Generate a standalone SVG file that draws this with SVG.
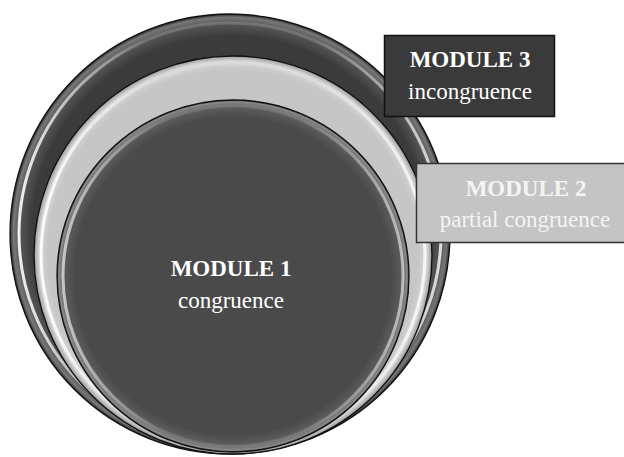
<svg xmlns="http://www.w3.org/2000/svg" width="624" height="457" viewBox="0 0 624 457">
  <defs>
    <radialGradient id="gOuter" cx="0.5" cy="0.5" r="0.5">
      <stop offset="0" stop-color="#3b3b3b"/>
      <stop offset="0.9" stop-color="#3b3b3b"/>
      <stop offset="0.955" stop-color="#555"/>
      <stop offset="0.985" stop-color="#777"/>
      <stop offset="1" stop-color="#2a2a2a"/>
    </radialGradient>
    <radialGradient id="gMiddle" cx="0.5" cy="0.5" r="0.5">
      <stop offset="0" stop-color="#c6c6c6"/>
      <stop offset="0.93" stop-color="#c6c6c6"/>
      <stop offset="0.975" stop-color="#d8d8d8"/>
      <stop offset="1" stop-color="#9a9a9a"/>
    </radialGradient>
    <radialGradient id="gInner" cx="0.5" cy="0.5" r="0.5">
      <stop offset="0" stop-color="#4a4a4a"/>
      <stop offset="0.9" stop-color="#4a4a4a"/>
      <stop offset="0.96" stop-color="#5c5c5c"/>
      <stop offset="0.99" stop-color="#8a8a8a"/>
      <stop offset="1" stop-color="#333"/>
    </radialGradient>
    <linearGradient id="hl" x1="0" y1="0" x2="1" y2="0">
      <stop offset="0" stop-color="#fff" stop-opacity="0.9"/>
      <stop offset="0.3" stop-color="#fff" stop-opacity="0.15"/>
      <stop offset="0.7" stop-color="#fff" stop-opacity="0.15"/>
      <stop offset="1" stop-color="#fff" stop-opacity="0.8"/>
    </linearGradient>
  </defs>
  <style>
    .edge { stroke: #111; stroke-width: 1.3; }
    .hl { fill: none; stroke: url(#hl); stroke-width: 3; }
    .box3 { fill: #3a3a3a; stroke: #111; stroke-width: 1.5; }
    .box2 { fill: #c4c4c4; stroke: #333; stroke-width: 1.5; }
    .t { font-family: "Liberation Serif", "Times New Roman", serif; font-size: 23px; text-anchor: middle; }
    .b { font-weight: bold; }
    .w { fill: #ffffff; }
    .w2 { fill: #f4f4f4; }
  </style>

  <g id="module3-circle">
    <circle cx="230" cy="234" r="220" fill="url(#gOuter)" class="edge"/>
    <circle cx="230" cy="234" r="211" class="hl"/>
  </g>
  <g id="module2-circle">
    <circle cx="233" cy="255" r="199" fill="url(#gMiddle)" class="edge"/>
    <circle cx="233" cy="255" r="192" class="hl"/>
  </g>
  <g id="module1">
    <circle cx="233" cy="276" r="176" fill="url(#gInner)" class="edge"/>
    <circle cx="233" cy="276" r="170" class="hl" opacity="0.7"/>
    <text class="t b w" x="231" y="276">MODULE 1</text>
    <text class="t w" x="231" y="308">congruence</text>
  </g>

  <g id="connectors"/>

  <g id="module3-label">
    <rect class="box3" x="384.5" y="35.5" width="170" height="81"/>
    <text class="t b w" x="470" y="67">MODULE 3</text>
    <text class="t w" x="470" y="99">incongruence</text>
  </g>
  <g id="module2-label">
    <rect class="box2" x="416.5" y="163.5" width="220" height="79"/>
    <text class="t b w2" x="526" y="196">MODULE 2</text>
    <text class="t w2" x="525" y="227">partial congruence</text>
  </g>
</svg>
